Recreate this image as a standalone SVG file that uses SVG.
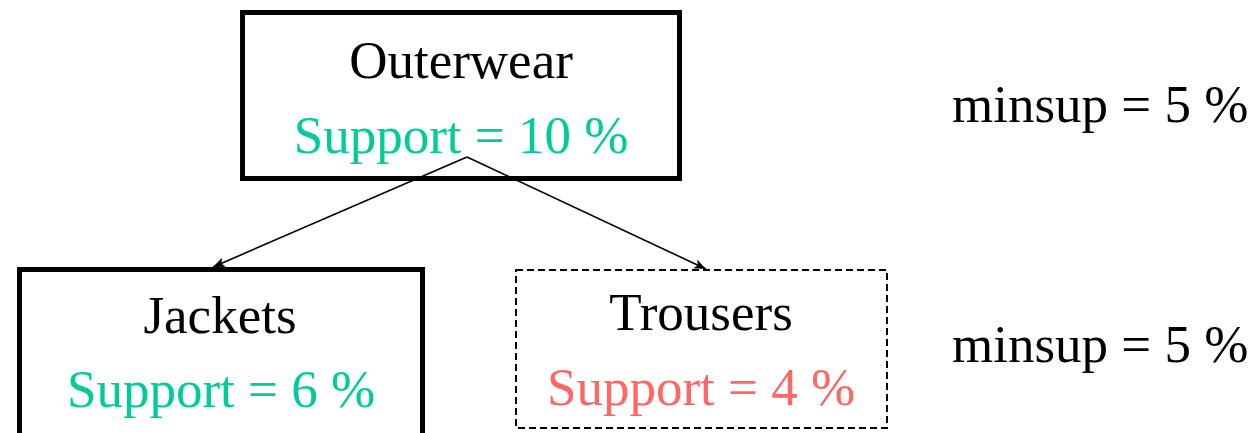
<svg xmlns="http://www.w3.org/2000/svg" width="1257" height="433" viewBox="0 0 1257 433">
  <style>
    text { font-family: "Liberation Serif", "Times New Roman", serif; font-size: 53px; text-anchor: middle; }
    .name { fill: #000000; }
    .ok { fill: #00CC99; }
    .low { fill: #FF6666; }
    .solid { fill: #FFFFFF; stroke: #000000; stroke-width: 5; }
    .dashed { fill: #FFFFFF; stroke: #000000; stroke-width: 2; stroke-dasharray: 7 4; }
    .edge { stroke: #000000; stroke-width: 1.6; fill: none; marker-end: url(#arrow); }
    .note { text-anchor: start; fill: #000000; }
  </style>
  <defs>
    <marker id="arrow" viewBox="0 0 10 10" refX="10" refY="5" markerWidth="12" markerHeight="12" markerUnits="userSpaceOnUse" orient="auto">
      <path d="M0,1 L10,5 L0,9 L2.5,5 Z" fill="#000000"/>
    </marker>
  </defs>

  <g id="node-outerwear">
    <rect class="solid" x="242.5" y="12.5" width="437" height="166"/>
    <text class="name" x="461" y="78">Outerwear</text>
    <text class="ok" x="461" y="153">Support = 10 %</text>
  </g>

  <g id="node-jackets">
    <rect class="solid" x="19.5" y="269.5" width="403" height="175"/>
    <text class="name" x="220" y="333">Jackets</text>
    <text class="ok" x="221" y="407">Support = 6 %</text>
  </g>

  <g id="node-trousers">
    <rect class="dashed" x="516" y="270" width="371" height="158"/>
    <text class="name" x="701" y="330">Trousers</text>
    <text class="low" x="701" y="405">Support = 4 %</text>
  </g>

  <g id="connectors">
    <line class="edge" x1="467" y1="157" x2="213" y2="267"/>
    <line class="edge" x1="467" y1="157" x2="706" y2="269"/>
  </g>

  <g id="labels">
    <text class="note" x="952" y="122">minsup = 5 %</text>
    <text class="note" x="952" y="362">minsup = 5 %</text>
  </g>
</svg>
